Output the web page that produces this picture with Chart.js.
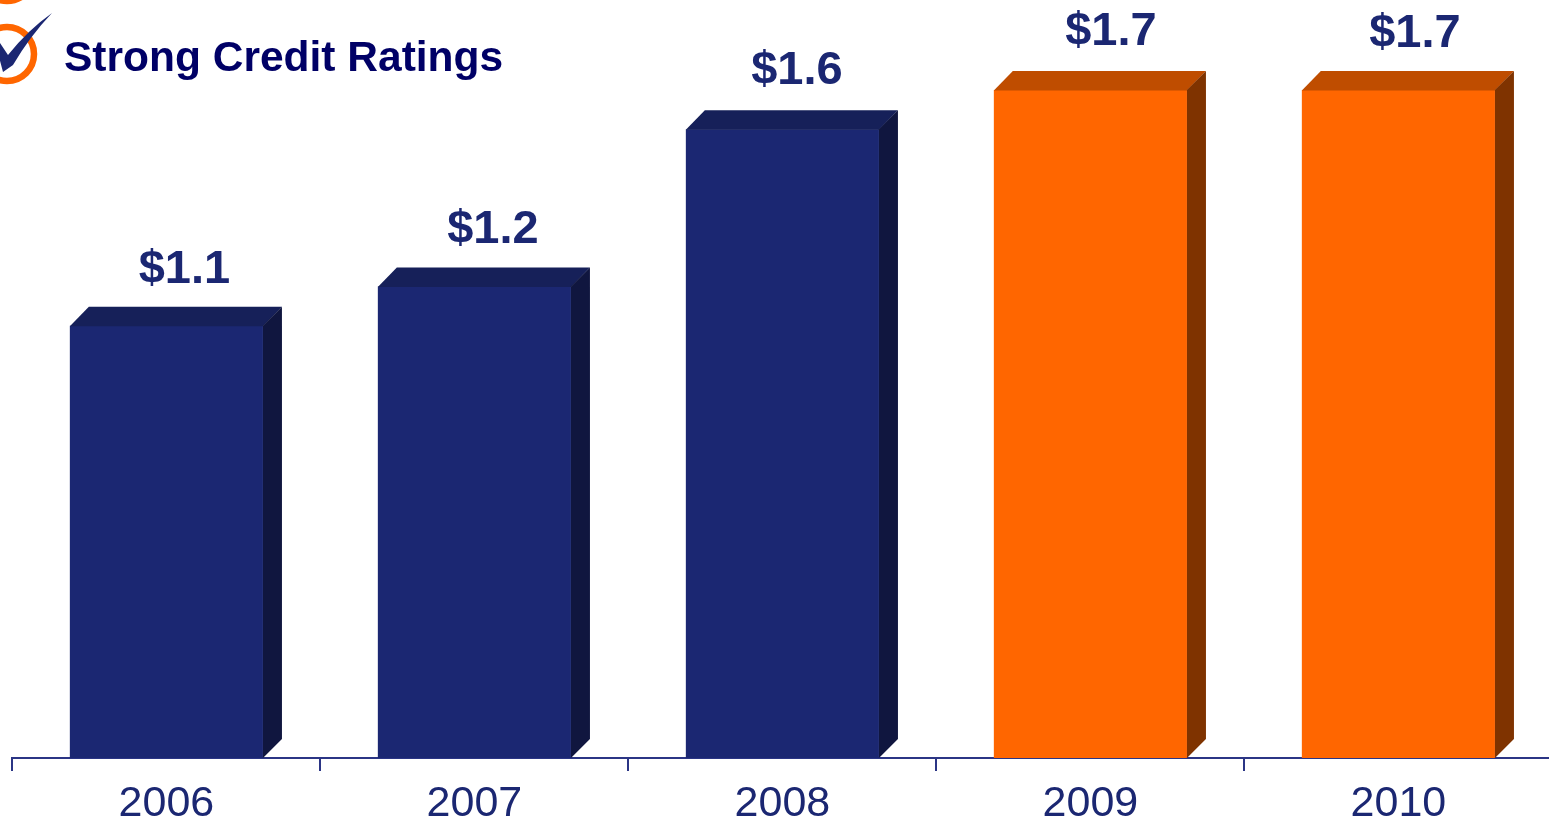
<!DOCTYPE html>
<html>
<head>
<meta charset="utf-8">
<title>Strong Credit Ratings</title>
<script src="https://cdn.jsdelivr.net/npm/chart.js@4"></script>
<style>
html,body{margin:0;padding:0;width:1549px;height:820px;overflow:hidden;background:#fff}
canvas{position:absolute;left:0;top:0}
</style>
</head>
<body>
<canvas id="c" width="1560" height="820"></canvas>
<script>
const categories = ["2006", "2007", "2008", "2009", "2010"];
const values = [1.1, 1.2, 1.6, 1.7, 1.7];
const valueLabels = ["$1.1", "$1.2", "$1.6", "$1.7", "$1.7"];
const heading = "Strong Credit Ratings";
const headingAbove = "Strong";

const NAVY = "#1B2772", NAVY_TOP = "#162059", NAVY_SIDE = "#10163F";
const ORANGE = "#FF6600", ORANGE_TOP = "#BF4D00", ORANGE_SIDE = "#7F3300";
const isOrange = i => i >= 3;
const FONT = '"Liberation Sans", Arial, sans-serif';
const DEPTH = 19;
const LABEL_DX = [18, 18.5, 14.5, 20.5, 16.5];
const LABEL_DY = [43, 43, 45, 45, 43];

const extrude = {
  id: "extrude",
  afterDatasetsDraw(chart) {
    const ctx = chart.ctx;
    chart.getDatasetMeta(0).data.forEach((bar, i) => {
      const p = bar.getProps(["x", "y", "base", "width"], true);
      const l = p.x - p.width / 2, r = p.x + p.width / 2, t = p.y, b = p.base;
      ctx.save();
      ctx.fillStyle = isOrange(i) ? ORANGE_TOP : NAVY_TOP;
      ctx.beginPath();
      ctx.moveTo(l, t + 0.5); ctx.lineTo(l + DEPTH, t - DEPTH);
      ctx.lineTo(r + DEPTH, t - DEPTH); ctx.lineTo(r, t + 0.5);
      ctx.closePath(); ctx.fill();
      ctx.fillStyle = isOrange(i) ? ORANGE_SIDE : NAVY_SIDE;
      ctx.beginPath();
      ctx.moveTo(r, t); ctx.lineTo(r + DEPTH, t - DEPTH);
      ctx.lineTo(r + DEPTH, b - DEPTH); ctx.lineTo(r, b);
      ctx.closePath(); ctx.fill();
      ctx.fillStyle = NAVY;
      ctx.font = "bold 47px " + FONT;
      ctx.textAlign = "center";
      ctx.textBaseline = "alphabetic";
      ctx.fillText(valueLabels[i], p.x + LABEL_DX[i], t - LABEL_DY[i]);
      ctx.restore();
    });
  }
};

const headingPlugin = {
  id: "headingPlugin",
  afterDraw(chart) {
    const ctx = chart.ctx;
    ctx.save();
    ctx.strokeStyle = ORANGE;
    ctx.lineWidth = 6.5;
    [-26, 54].forEach(cy => {
      ctx.beginPath(); ctx.arc(7, cy, 27, 0, Math.PI * 2); ctx.stroke();
    });
    ctx.fillStyle = NAVY;
    ctx.beginPath();
    ctx.moveTo(52, 13);
    ctx.quadraticCurveTo(28, 30, 8, 55);
    ctx.lineTo(0, 43);
    ctx.lineTo(-4, 46);
    ctx.lineTo(3, 72);
    ctx.lineTo(13, 65);
    ctx.quadraticCurveTo(30, 36, 52, 13);
    ctx.closePath(); ctx.fill();
    ctx.fillStyle = "#000066";
    ctx.font = "bold 42.5px " + FONT;
    ctx.textAlign = "left";
    ctx.textBaseline = "alphabetic";
    ctx.fillText(heading, 64, 71);
    ctx.fillText(headingAbove, 64, -9);
    ctx.restore();
  }
};

new Chart(document.getElementById("c"), {
  type: "bar",
  data: {
    labels: categories,
    datasets: [{
      data: values,
      backgroundColor: values.map((_, i) => isOrange(i) ? ORANGE : NAVY),
      borderWidth: 0,
      barPercentage: 0.627,
      categoryPercentage: 1
    }]
  },
  options: {
    responsive: false,
    animation: false,
    layout: { padding: { left: 12.4, right: 7.6, top: 11.3, bottom: 0 } },
    plugins: { legend: { display: false }, tooltip: { enabled: false } },
    scales: {
      y: { display: false, min: 0, max: 1.9 },
      x: {
        afterFit(scale) { scale.height = 62; },
        border: { display: true, color: "#2B3585", width: 2 },
        grid: { drawOnChartArea: false, drawTicks: true, tickLength: 13, color: "#2B3585", lineWidth: 2 },
        ticks: { color: NAVY, font: { family: FONT, size: 43 }, padding: 7, maxRotation: 0 }
      }
    }
  },
  plugins: [extrude, headingPlugin]
});
</script>
</body>
</html>
